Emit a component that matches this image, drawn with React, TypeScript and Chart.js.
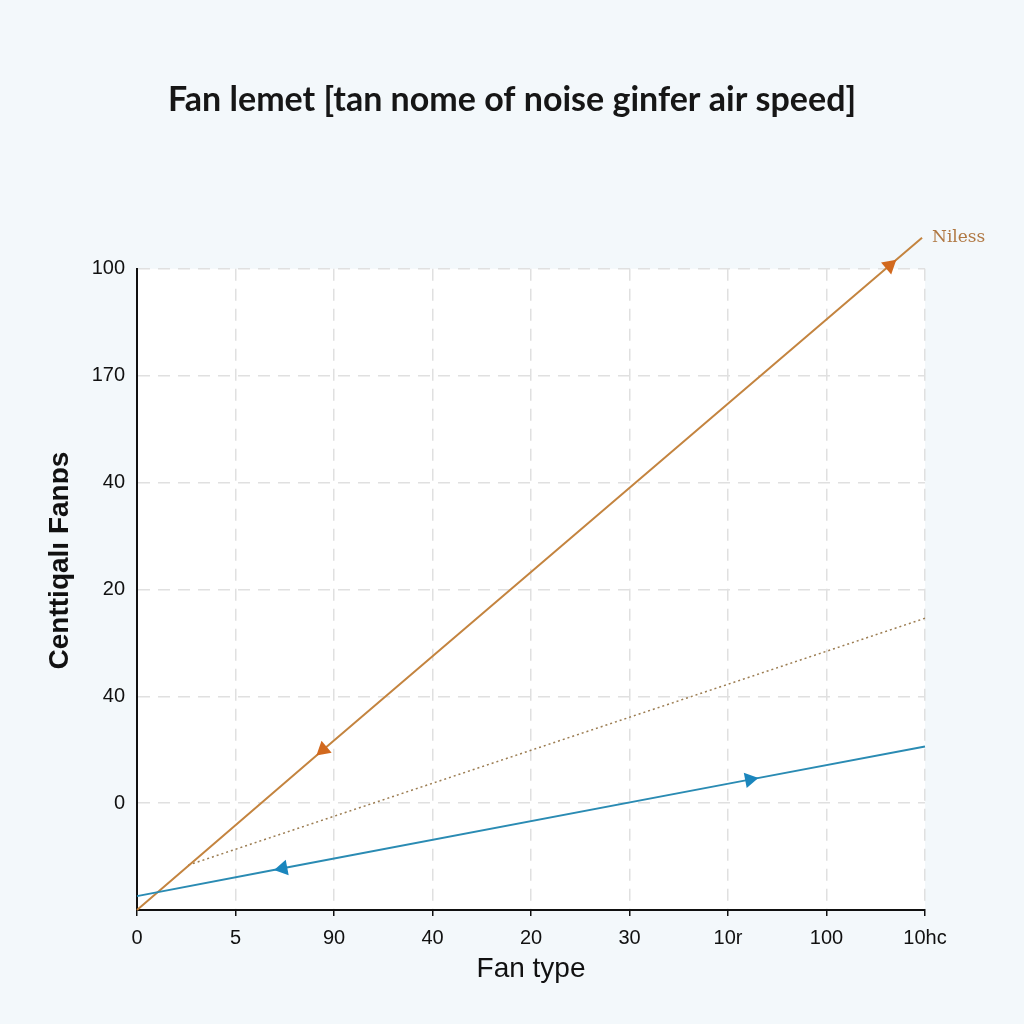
import React, { useEffect, useRef } from "react";
import { Chart, registerables } from "chart.js";

Chart.register(...registerables);

const titleText = "Fan lemet [tan nome of noise ginfer air speed]";
const xAxisTitle = "Fan type";
const yAxisTitle = "Centtiqalı Fanɒs";
const seriesLabel = "Niless";

const xTickLabels = ["0", "5", "90", "40", "20", "30", "10r", "100", "10hc"];
const yTickLabels = ["", "0", "40", "20", "40", "170", "100"];

// Orange line (with arrow markers at points 1 and 2)
const orangeX = [0, 1.89, 7.64, 7.97];
const orangeY = [0, 1.5, 6.03, 6.29];
// Dotted line
const dottedX = [0.52, 8.0];
const dottedY = [0.42, 2.73];
// Blue line (with arrow markers at points 1 and 2)
const blueX = [0, 1.48, 6.22, 8.0];
const blueY = [0.13, 0.39, 1.22, 1.53];

const toPoints = (xs: number[], ys: number[]) => xs.map((x, i) => ({ x, y: ys[i] }));

const ORANGE = "#c4843f";
const ORANGE_ARROW = "#d2691e";
const BLUE = "#2a8bb3";
const BLUE_ARROW = "#1b86bd";
const DOTTED = "#9c7d52";

const decorPlugin = {
  id: "decor",
  beforeDraw(chart: any) {
    const { ctx, chartArea, width, height } = chart;
    ctx.save();
    ctx.fillStyle = "#f3f8fb";
    ctx.fillRect(0, 0, width, height);
    ctx.fillStyle = "#ffffff";
    ctx.fillRect(chartArea.left, chartArea.top, chartArea.right - chartArea.left, chartArea.bottom - chartArea.top);
    ctx.restore();
  },
  afterDatasetsDraw(chart: any) {
    const { ctx, chartArea } = chart;
    const meta = chart.getDatasetMeta(0);
    const last = meta.data[meta.data.length - 1];
    ctx.save();
    ctx.font = "17px 'DejaVu Serif', serif";
    ctx.fillStyle = "#b07843";
    ctx.textAlign = "left";
    ctx.textBaseline = "middle";
    ctx.fillText(seriesLabel, last.x + 10, last.y);
    // y axis title
    ctx.translate(60, chartArea.top + (chartArea.bottom - chartArea.top) * 0.455);
    ctx.rotate(-Math.PI / 2);
    ctx.font = "bold 28px 'Liberation Sans', Arial, sans-serif";
    ctx.fillStyle = "#111111";
    ctx.textAlign = "center";
    ctx.textBaseline = "middle";
    ctx.fillText(yAxisTitle, 0, 0);
    ctx.restore();
  },
};

export default function App() {
  const canvasRef = useRef<HTMLCanvasElement | null>(null);

  useEffect(() => {
    if (!canvasRef.current) return;
    const chart = new Chart(canvasRef.current, {
      type: "line",
      data: {
        datasets: [
          {
            label: seriesLabel,
            data: toPoints(orangeX, orangeY),
            borderColor: ORANGE,
            borderWidth: 2,
            backgroundColor: ORANGE_ARROW,
            pointBackgroundColor: ORANGE_ARROW,
            pointBorderColor: ORANGE_ARROW,
            pointStyle: "triangle",
            pointRadius: (c: any) => (c.dataIndex === 1 || c.dataIndex === 2 ? 7 : 0),
            pointRotation: (c: any) => (c.dataIndex === 1 ? 229.4 : 49.4),
            clip: false,
            order: 1,
          } as any,
          {
            label: "dotted",
            data: toPoints(dottedX, dottedY),
            borderColor: DOTTED,
            borderWidth: 1.5,
            borderDash: [2, 3],
            pointRadius: 0,
            clip: false,
            order: 2,
          } as any,
          {
            label: "blue",
            data: toPoints(blueX, blueY),
            borderColor: BLUE,
            borderWidth: 2,
            pointBackgroundColor: BLUE_ARROW,
            pointBorderColor: BLUE_ARROW,
            pointStyle: "triangle",
            pointRadius: (c: any) => (c.dataIndex === 1 || c.dataIndex === 2 ? 7 : 0),
            pointRotation: (c: any) => (c.dataIndex === 1 ? 259.2 : 79.2),
            clip: false,
            order: 0,
          } as any,
        ],
      },
      options: {
        responsive: false,
        animation: false,
        devicePixelRatio: 1,
        layout: { padding: { left: 0, right: 0, top: 0, bottom: 0 } },
        plugins: {
          legend: { display: false },
          tooltip: { enabled: false },
          title: {
            display: true,
            text: titleText,
            color: "#161616",
            font: { family: "Lato, 'Liberation Sans', sans-serif", size: 34, weight: "bold" },
            padding: { top: 80, bottom: 148 },
          },
        },
        scales: {
          x: {
            type: "linear",
            min: 0,
            max: 8,
            afterFit: (s: any) => {
              s.height = 114;
            },
            ticks: {
              stepSize: 1,
              autoSkip: false,
              maxRotation: 0,
              color: "#111111",
              padding: 10,
              font: { family: "'Liberation Sans', Arial, sans-serif", size: 20 },
              callback: (v: any) => xTickLabels[Math.round(Number(v))] ?? "",
            },
            grid: {
              color: "#e0e0e0",
              lineWidth: 1.5,
              tickLength: 6,
              tickColor: "#111111",
              tickWidth: 1.5,
              tickBorderDash: [],
              drawTicks: true,
            },
            border: { display: true, color: "#111111", width: 2, dash: [12, 8] },
            title: {
              display: true,
              text: xAxisTitle,
              color: "#111111",
              font: { family: "'Liberation Sans', Arial, sans-serif", size: 28 },
              padding: { top: 0, bottom: 38 },
            },
          } as any,
          y: {
            type: "linear",
            min: 0,
            max: 6,
            afterFit: (s: any) => {
              s.width = 137;
            },
            ticks: {
              stepSize: 1,
              autoSkip: false,
              color: "#111111",
              padding: 12,
              font: { family: "'Liberation Sans', Arial, sans-serif", size: 20 },
              callback: (v: any) => yTickLabels[Math.round(Number(v))] ?? "",
            },
            grid: {
              color: "#e0e0e0",
              lineWidth: 1.5,
              drawTicks: false,
            },
            border: { display: true, color: "#111111", width: 2, dash: [12, 8] },
          } as any,
          rightSpace: {
            type: "linear",
            position: "right",
            min: 0,
            max: 6,
            afterFit: (s: any) => {
              s.width = 99;
            },
            ticks: { display: false },
            grid: { display: false, drawTicks: false },
            border: { display: false },
          } as any,
        },
      } as any,
      plugins: [decorPlugin],
    });
    return () => chart.destroy();
  }, []);

  return (
    <div style={{ position: "fixed", left: 0, top: 0, width: 1024, height: 1024 }}>
      <canvas ref={canvasRef} width={1024} height={1024} style={{ width: 1024, height: 1024 }} />
    </div>
  );
}
